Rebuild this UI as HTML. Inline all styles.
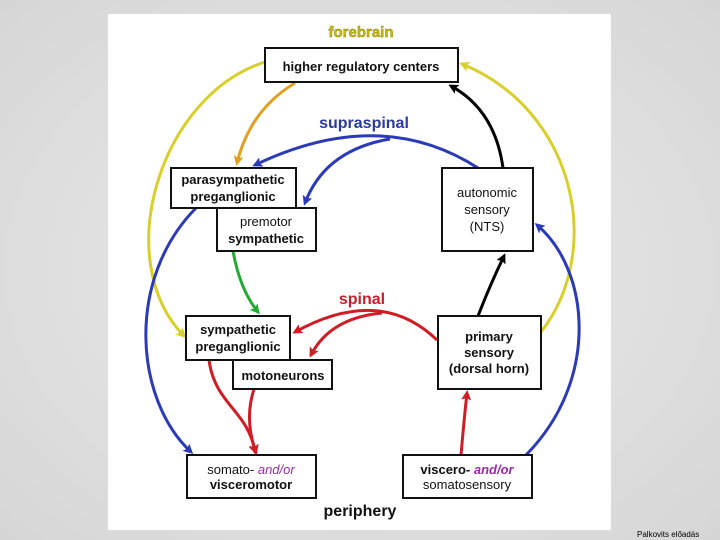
<!DOCTYPE html>
<html><head><meta charset="utf-8"><style>
html,body{margin:0;padding:0}
body{width:720px;height:540px;background:radial-gradient(ellipse at center,#ececec 0%,#d6d6d6 100%);position:relative;overflow:hidden;font-family:"Liberation Sans",Arial,sans-serif}
#panel{position:absolute;left:108px;top:14px;width:503px;height:516px;background:#fff}
svg{position:absolute;left:0;top:0}
.b{fill:#fff;stroke:#111;stroke-width:2}
text{font-family:"Liberation Sans",Arial,sans-serif;font-weight:bold;font-size:13px;fill:#111;text-anchor:middle}
.foot{position:absolute;left:637px;top:530px;font-size:8px;color:#000}
</style></head><body>
<div id="panel"></div>
<svg width="720" height="540" viewBox="0 0 720 540">
<defs>
<marker id="ay" markerWidth="10" markerHeight="10" refX="7" refY="5" orient="auto" markerUnits="userSpaceOnUse"><path d="M0,0 L10,5 L0,10 L2,5 Z" fill="#d9cf2a"/></marker>
<marker id="ao" markerWidth="10" markerHeight="10" refX="7" refY="5" orient="auto" markerUnits="userSpaceOnUse"><path d="M0,0 L10,5 L0,10 L2,5 Z" fill="#e0a020"/></marker>
<marker id="ab" markerWidth="10" markerHeight="10" refX="7" refY="5" orient="auto" markerUnits="userSpaceOnUse"><path d="M0,0 L10,5 L0,10 L2,5 Z" fill="#2a3ab8"/></marker>
<marker id="ak" markerWidth="10" markerHeight="10" refX="7" refY="5" orient="auto" markerUnits="userSpaceOnUse"><path d="M0,0 L10,5 L0,10 L2,5 Z" fill="#000"/></marker>
<marker id="ag" markerWidth="10" markerHeight="10" refX="7" refY="5" orient="auto" markerUnits="userSpaceOnUse"><path d="M0,0 L10,5 L0,10 L2,5 Z" fill="#22aa33"/></marker>
<marker id="ar" markerWidth="10" markerHeight="10" refX="7" refY="5" orient="auto" markerUnits="userSpaceOnUse"><path d="M0,0 L10,5 L0,10 L2,5 Z" fill="#d01c24"/></marker>
</defs>
<g fill="none" stroke-width="3">
<path d="M265,62 C160,95 110,260 184,336" stroke="#d9cf2a" marker-end="url(#ay)"/>
<path d="M541,332 C605,250 575,110 462,64" stroke="#d9cf2a" marker-end="url(#ay)"/>
<path d="M295,83 Q250,110 237,163" stroke="#e0a020" marker-end="url(#ao)"/>
<path d="M478,168 Q380,105 255,165" stroke="#2a3ab8" marker-end="url(#ab)"/>
<path d="M390,139 Q325,150 305,203" stroke="#2a3ab8" marker-end="url(#ab)"/>
<path d="M196,208 C125,280 135,400 191,452" stroke="#2a3ab8" marker-end="url(#ab)"/>
<path d="M526,455 C600,380 590,270 537,225" stroke="#2a3ab8" marker-end="url(#ab)"/>
<path d="M503,168 Q495,110 451,86" stroke="#000" marker-end="url(#ak)"/>
<path d="M478,316 Q490,285 504,256" stroke="#000" marker-end="url(#ak)"/>
<path d="M233,251 Q240,290 258,312" stroke="#22aa33" marker-end="url(#ag)"/>
<path d="M437,340 Q380,285 295,332" stroke="#d01c24" marker-end="url(#ar)"/>
<path d="M382,313 Q330,318 311,355" stroke="#d01c24" marker-end="url(#ar)"/>
<path d="M209,360 C215,405 248,410 255,452" stroke="#d01c24" marker-end="url(#ar)"/>
<path d="M254,389 Q244,420 256,452" stroke="#d01c24" marker-end="url(#ar)"/>
<path d="M461,455 Q464,420 467,393" stroke="#d01c24" marker-end="url(#ar)"/>
</g>
<rect class="b" x="265" y="48" width="193" height="34"/>
<rect class="b" x="171" y="168" width="125" height="40"/>
<rect class="b" x="217" y="208" width="99" height="43"/>
<rect class="b" x="442" y="168" width="91" height="83"/>
<rect class="b" x="186" y="316" width="104" height="44"/>
<rect class="b" x="233" y="360" width="99" height="29"/>
<rect class="b" x="438" y="316" width="103" height="73"/>
<rect class="b" x="187" y="455" width="129" height="43"/>
<rect class="b" x="403" y="455" width="129" height="43"/>
<text x="361" y="37" style="font-size:15px;fill:#c8bb10;stroke:#8a8000;stroke-width:0.4">forebrain</text>
<text x="361" y="71">higher regulatory centers</text>
<text x="364" y="128" style="font-size:16px;fill:#2b3a9e">supraspinal</text>
<text x="233" y="184">parasympathetic</text>
<text x="233" y="201">preganglionic</text>
<text x="266" y="226" style="font-weight:normal">premotor</text>
<text x="266" y="243">sympathetic</text>
<text x="487" y="197" style="font-weight:normal">autonomic</text>
<text x="487" y="214" style="font-weight:normal">sensory</text>
<text x="487" y="231" style="font-weight:normal">(NTS)</text>
<text x="362" y="304" style="font-size:16px;fill:#c8202a">spinal</text>
<text x="238" y="334">sympathetic</text>
<text x="238" y="351">preganglionic</text>
<text x="283" y="380">motoneurons</text>
<text x="489" y="341">primary</text>
<text x="489" y="357">sensory</text>
<text x="489" y="373">(dorsal horn)</text>
<text x="251" y="474" style="font-weight:normal">somato- <tspan style="font-style:italic;fill:#9a2aa8">and/or</tspan></text>
<text x="251" y="489">visceromotor</text>
<text x="467" y="474">viscero- <tspan style="font-style:italic;fill:#9a2aa8">and/or</tspan></text>
<text x="467" y="489" style="font-weight:normal">somatosensory</text>
<text x="360" y="516" style="font-size:16px">periphery</text>
</svg>
<div class="foot">Palkovits előadás</div>
</body></html>
